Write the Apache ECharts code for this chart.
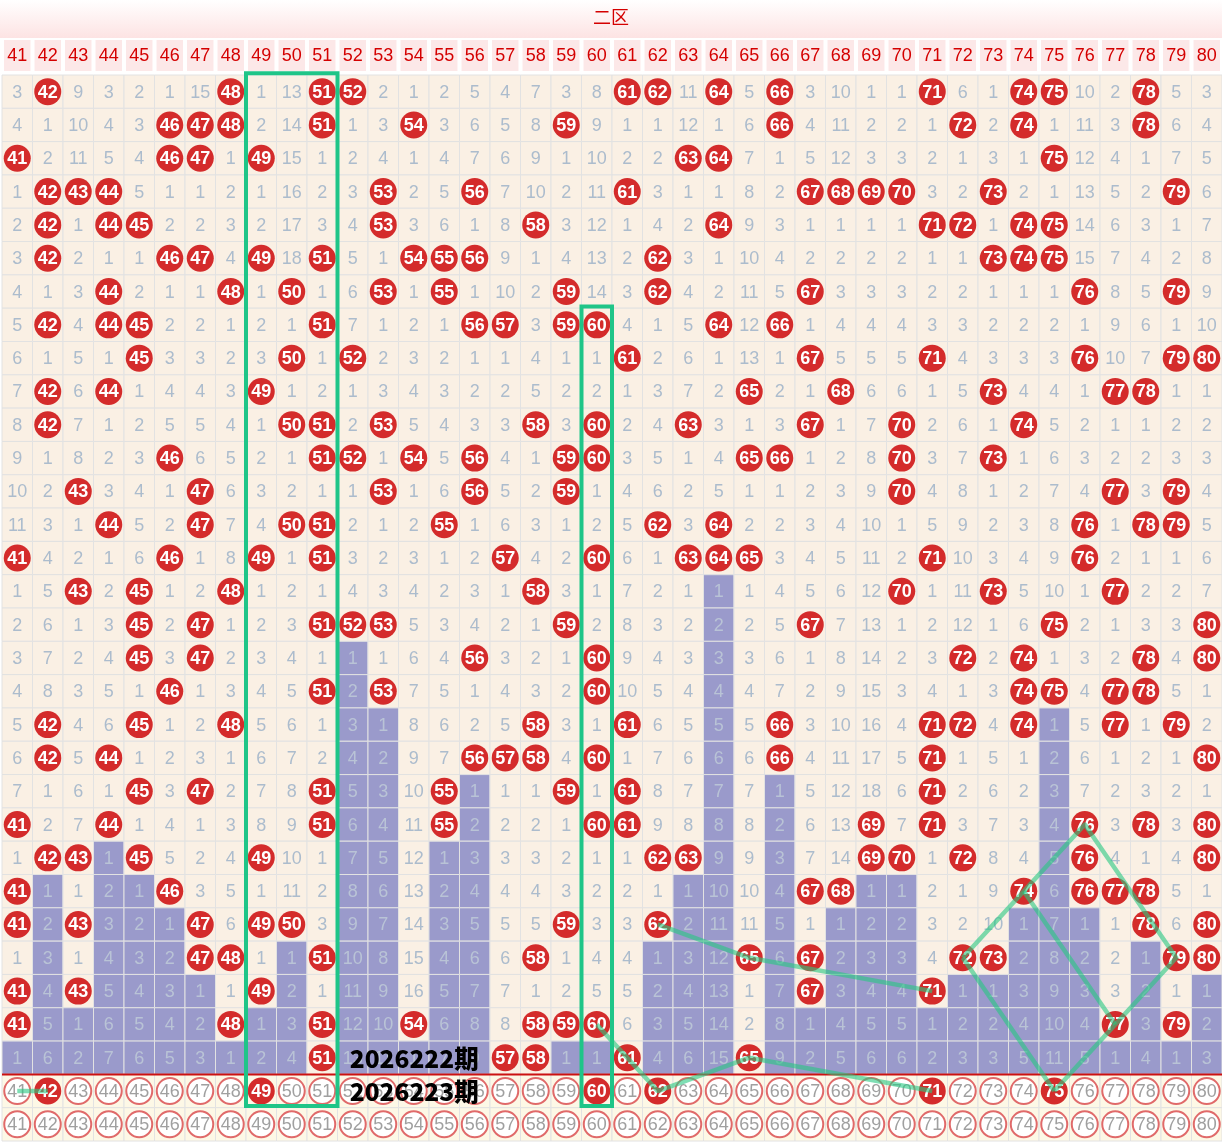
<!DOCTYPE html>
<html><head><meta charset="utf-8">
<script src="https://cdn.jsdelivr.net/npm/echarts@6.0.0/dist/echarts.min.js"></script>
<style>html,body{margin:0;padding:0;background:#fff}#c{width:1222px;height:1144px}</style>
</head><body><div id="c"></div>
<script>
const numbers = []
for (let n = 41; n <= 80; n++) numbers.push(n)

// miss values shown in the first row (a number equal to the column means a hit)
const firstRow = [3,42,9,3,2,1,15,48,1,13,51,52,2,1,2,5,4,7,3,8,61,62,11,64,5,66,3,10,1,1,71,6,1,74,75,10,2,78,5,3]

// drawn numbers per period, rows 1..30
const hits = [
  [42,48,51,52,61,62,64,66,71,74,75,78],
  [46,47,48,51,54,59,66,72,74,78],
  [41,46,47,49,63,64,75],
  [42,43,44,53,56,61,67,68,69,70,73,79],
  [42,44,45,53,58,64,71,72,74,75],
  [42,46,47,49,51,54,55,56,62,73,74,75],
  [44,48,50,53,55,59,62,67,76,79],
  [42,44,45,51,56,57,59,60,64,66],
  [45,50,52,61,67,71,76,79,80],
  [42,44,49,65,68,73,77,78],
  [42,50,51,53,58,60,63,67,70,74],
  [46,51,52,54,56,59,60,65,66,70,73],
  [43,47,53,56,59,70,77,79],
  [44,47,50,51,55,62,64,76,78,79],
  [41,46,49,51,57,60,63,64,65,71,76],
  [43,45,48,58,70,73,77],
  [45,47,51,52,53,59,67,75,80],
  [45,47,56,60,72,74,78,80],
  [46,51,53,60,74,75,77,78],
  [42,45,48,58,61,66,71,72,74,77,79],
  [42,44,56,57,58,60,66,71,80],
  [45,47,51,55,59,61,71],
  [41,44,51,55,60,61,69,71,76,78,80],
  [42,43,45,49,62,63,69,70,72,76,80],
  [41,46,67,68,74,76,77,78],
  [41,43,47,49,50,59,62,78,80],
  [47,48,51,58,65,67,72,73,79,80],
  [41,43,49,67,71],
  [41,48,51,54,58,59,60,77,79],
  [51,57,58,61,65]
]
const picked = [42,49,60,62,71,75]   // row 2026223期

// drawn trend lines: [number, row] pairs
const lines = [
  [[41,31],[42,31]],
  [[62,26],[65,27],[71,28]],
  [[60,29],[61,30],[62,31],[65,30],[71,31]],
  [[72,27],[74,25],[76,23],[79,27],[77,29],[75,31]],
  [[74,25],[77,29]],
  [[72,27],[75,31]]
]
// green boxes: [fromCol, toCol, fromRow, toRow]
const boxes = [[49,51,0.5,31.5],[60,60,7.5,31.5]]
const periods = ['2026222期', '2026223期']

const ROWS = hits.length
const cells = []
numbers.forEach((n, c) => {
  let lastHit = -1
  for (let r = 0; r < ROWS; r++) if (hits[r].includes(n)) lastHit = r
  let miss = firstRow[c] === n ? 0 : firstRow[c] - 1
  for (let r = 0; r < ROWS; r++) {
    if (hits[r].includes(n)) { miss = 0; cells.push([c, r, n, 'hit']) }
    else { miss++; cells.push([c, r, miss, r > lastHit ? 'purple' : 'miss']) }
  }
  cells.push([c, ROWS, n, picked.includes(n) ? 'pball' : 'ring'])
  cells.push([c, ROWS + 1, n, 'ring'])
})

const rowCats = []
for (let r = 0; r < ROWS + 2; r++) rowCats.push(String(r))

function renderCell(params, api) {
  const c = api.value(0), r = api.value(1), v = api.value(2)
  const t = cells[params.dataIndex][3]
  const p = api.coord([c, r])
  const s = api.size([1, 1])
  const w = s[0], h = s[1]
  const bg = t === 'purple' ? '#9a9acb' : (r >= ROWS ? '#fdf8e6' : '#faf0e4')
  const ch = [{type: 'rect', shape: {x: p[0] - w / 2, y: p[1] - h / 2, width: w, height: h},
    style: {fill: bg, stroke: '#e2e2e2', lineWidth: 1}}]
  if (t === 'hit' || t === 'pball') {
    ch.push({type: 'circle', shape: {cx: p[0], cy: p[1], r: 13.5}, style: {fill: '#d42b2b'}})
    ch.push({type: 'text', style: {x: p[0], y: p[1] + 1, text: String(v), fill: '#fff', font: 'bold 18px "Liberation Sans"', align: 'center', verticalAlign: 'middle'}})
  } else if (t === 'ring') {
    ch.push({type: 'circle', shape: {cx: p[0], cy: p[1], r: 13}, style: {fill: '#fff', stroke: '#e06a6a', lineWidth: 2}})
    ch.push({type: 'text', style: {x: p[0], y: p[1] + 1, text: String(v), fill: '#a0a0a0', font: '18px "Liberation Sans"', align: 'center', verticalAlign: 'middle'}})
  } else {
    ch.push({type: 'text', style: {x: p[0], y: p[1] + 1, text: String(v), fill: t === 'purple' ? '#b9c3d6' : '#acbccd', font: '18px "Liberation Sans"', align: 'center', verticalAlign: 'middle'}})
  }
  return {type: 'group', children: ch}
}

const option = {
  animation: false,
  graphic: [{type: 'rect', left: 0, top: 0, shape: {width: 1222, height: 38},
    style: {fill: {type: 'linear', x: 0, y: 0, x2: 0, y2: 1, colorStops: [{offset: 0, color: '#ffffff'}, {offset: 1, color: '#fde3e3'}]}}},
    {type: 'text', left: 'center', top: 8, style: {text: '二区', fill: '#d40000', font: '18px "Noto Sans CJK SC"'}}],
  grid: [
    {left: 2, right: 0, top: 39, height: 33},
    {left: 2, right: 0, top: 75, height: 1066}
  ],
  xAxis: [
    {gridIndex: 0, type: 'value', min: -0.5, max: 39.5, show: false},
    {gridIndex: 1, type: 'value', min: -0.5, max: 39.5, show: false}
  ],
  yAxis: [
    {gridIndex: 0, type: 'category', data: ['h'], show: false},
    {gridIndex: 1, type: 'category', data: rowCats, inverse: true, show: false}
  ],
  series: [
    {type: 'custom', xAxisIndex: 0, yAxisIndex: 0, data: numbers.map((n, i) => [i, 0, n]),
      renderItem: (params, api) => {
        const p = api.coord([api.value(0), 0]), s = api.size([1, 1])
        return {type: 'group', children: [
          {type: 'rect', shape: {x: p[0] - s[0] / 2 + 1, y: p[1] - s[1] / 2, width: s[0] - 2, height: s[1]}, style: {fill: '#fce8e8', stroke: '#fff', lineWidth: 2}},
          {type: 'text', style: {x: p[0], y: p[1] + 1, text: String(api.value(2)), fill: '#d40000', font: '18px "Liberation Sans"', align: 'center', verticalAlign: 'middle'}}]}
      }},
    {type: 'custom', xAxisIndex: 1, yAxisIndex: 1, data: cells.map(d => [d[0], d[1], d[2]]), renderItem: renderCell},
    {type: 'custom', xAxisIndex: 1, yAxisIndex: 1, data: [[0, ROWS - 0.5, 39]],
      renderItem: (params, api) => {
        const a = api.coord([-0.5, 0]), b = api.coord([39.5, 0]), y = api.coord([0, ROWS])[1] - api.size([1, 1])[1] / 2
        return {type: 'line', shape: {x1: a[0], y1: y, x2: b[0], y2: y}, style: {stroke: '#cc1111', lineWidth: 2}}
      }},
    {type: 'custom', xAxisIndex: 1, yAxisIndex: 1, data: boxes,
      renderItem: (params, api) => {
        const s = api.size([1, 1])
        const c0 = api.value(0) - 41, c1 = api.value(1) - 41
        const x0 = api.coord([c0, 0])[0] - s[0] / 2, x1 = api.coord([c1, 0])[0] + s[0] / 2
        const y0 = api.coord([0, 0])[1] + (api.value(2) - 1) * s[1], y1 = api.coord([0, 0])[1] + (api.value(3) - 1) * s[1]
        return {type: 'rect', shape: {x: x0, y: y0 - s[1] / 2 + 15, width: x1 - x0, height: y1 - y0}, style: {fill: 'none', stroke: '#1fc588', lineWidth: 4}}
      }},
    {type: 'custom', xAxisIndex: 1, yAxisIndex: 1, data: lines.map((l, i) => [i]),
      renderItem: (params, api) => {
        const pts = lines[params.dataIndex].map(pt => api.coord([pt[0] - 41, pt[1] - 1]))
        return {type: 'polyline', shape: {points: pts}, style: {fill: 'none', stroke: 'rgba(40,200,130,0.6)', lineWidth: 4.5, lineJoin: 'round'}}
      }},
    {type: 'custom', xAxisIndex: 1, yAxisIndex: 1, data: [[11, 29], [11, 30]],
      renderItem: (params, api) => {
        const p = api.coord([api.value(0), api.value(1)])
        return {type: 'text', style: {x: p[0] - 3, y: p[1] + 1, text: periods[params.dataIndex], fill: '#000', font: '900 24.5px "Noto Sans CJK SC"', verticalAlign: 'middle'}}
      }}
  ]
}
echarts.init(document.getElementById('c')).setOption(option)
</script></body></html>
